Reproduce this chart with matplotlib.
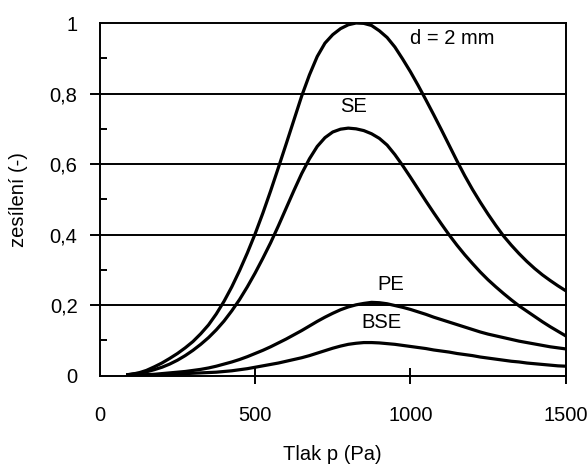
import matplotlib
matplotlib.use("Agg")
import matplotlib.pyplot as plt

plt.rcParams['font.family'] = ['Liberation Sans', 'DejaVu Sans']

# tlak p (Pa)
tlak = [90, 100, 125, 150, 175, 200, 225, 250, 275, 300, 325, 350, 375, 400,
        425, 450, 475, 500, 525, 550, 575, 600, 625, 650, 675, 700, 725, 750,
        775, 800, 825, 850, 875, 900, 925, 950, 975, 1000, 1025, 1050, 1075, 1100,
        1125, 1150, 1175, 1200, 1225, 1250, 1275, 1300, 1325, 1350, 1375, 1400,
        1425, 1450, 1475, 1500]

# celkove zesileni, d = 2 mm
celkem = [0.003, 0.004, 0.008, 0.015, 0.025, 0.036, 0.049, 0.063, 0.079, 0.097, 0.119,
          0.144, 0.175, 0.211, 0.252, 0.298, 0.348, 0.402, 0.461, 0.524, 0.590, 0.657,
          0.725, 0.793, 0.853, 0.905, 0.943, 0.967, 0.984, 0.995, 1.0, 0.999, 0.993,
          0.978, 0.959, 0.932, 0.898, 0.862, 0.823, 0.782, 0.740, 0.697, 0.653, 0.609,
          0.567, 0.528, 0.492, 0.458, 0.426, 0.396, 0.370, 0.346, 0.324, 0.304, 0.286,
          0.270, 0.255, 0.241]
se = [0.003, 0.004, 0.007, 0.011, 0.017, 0.024, 0.033, 0.044, 0.057, 0.072, 0.089, 0.108,
      0.130, 0.155, 0.184, 0.216, 0.252, 0.291, 0.333, 0.377, 0.425, 0.475, 0.525, 0.573,
      0.615, 0.650, 0.675, 0.691, 0.699, 0.702, 0.700, 0.695, 0.686, 0.673, 0.654, 0.627,
      0.596, 0.563, 0.529, 0.495, 0.462, 0.430, 0.399, 0.370, 0.343, 0.318, 0.294, 0.272,
      0.252, 0.233, 0.215, 0.198, 0.183, 0.168, 0.153, 0.139, 0.126, 0.113]
pe = [0.001, 0.001, 0.002, 0.003, 0.004, 0.006, 0.008, 0.010, 0.012, 0.015, 0.018, 0.022,
      0.027, 0.033, 0.039, 0.046, 0.054, 0.063, 0.072, 0.082, 0.093, 0.104, 0.116, 0.128,
      0.141, 0.154, 0.166, 0.177, 0.187, 0.195, 0.201, 0.205, 0.208, 0.207, 0.204, 0.199,
      0.194, 0.188, 0.181, 0.174, 0.166, 0.159, 0.152, 0.145, 0.138, 0.131, 0.124, 0.118,
      0.113, 0.108, 0.103, 0.098, 0.094, 0.090, 0.086, 0.082, 0.079, 0.076]
bse = [0.001, 0.001, 0.001, 0.002, 0.002, 0.003, 0.004, 0.005, 0.006, 0.007, 0.008, 0.009,
       0.010, 0.012, 0.014, 0.017, 0.020, 0.024, 0.028, 0.032, 0.036, 0.041, 0.046, 0.051,
       0.057, 0.064, 0.071, 0.078, 0.084, 0.089, 0.092, 0.094, 0.094, 0.093, 0.091, 0.089,
       0.086, 0.083, 0.080, 0.077, 0.073, 0.070, 0.067, 0.063, 0.060, 0.057, 0.053, 0.050,
       0.047, 0.044, 0.041, 0.039, 0.036, 0.034, 0.032, 0.030, 0.028, 0.027]

yticks = [0, 0.2, 0.4, 0.6, 0.8, 1]
ylabels = ['0', '0,2', '0,4', '0,6', '0,8', '1']
yminor = [0.1, 0.3, 0.5, 0.7, 0.9]
xticks = [0, 500, 1000, 1500]

fs = 14.5

fig = plt.figure(figsize=(5.87, 4.65), dpi=100)
ax = fig.add_axes([0.170, 0.192, 0.7937, 0.7585])

# vodorovna mrizka, vlevo trochu presahuje osu
for y in yticks[1:-1]:
    ax.axhline(y, xmin=-0.018, xmax=1, color='black', lw=1.4, clip_on=False, zorder=1)

for s in [celkem, se, pe, bse]:
    ax.plot(tlak, s, color='black', lw=2.3, zorder=3)

ax.set_xlim(0, 1500)
ax.set_ylim(0, 1)

ax.set_yticks(yticks)
ax.set_yticklabels(ylabels)
ax.set_yticks(yminor, minor=True)
ax.tick_params(axis='y', which='major', length=0, pad=16, labelsize=fs)
ax.tick_params(axis='y', which='minor', direction='in', length=5, width=1.4)

ax.set_xticks(xticks)
ax.set_xticklabels([str(v) for v in xticks])
ax.tick_params(axis='x', which='major', direction='inout', length=11.5, width=1.4,
               pad=16, labelsize=fs)
ax.xaxis.get_major_ticks()[0].tick1line.set_visible(False)

for sp in ax.spines.values():
    sp.set_linewidth(1.4)

ax.set_xlabel('Tlak p (Pa)', fontsize=fs)
ax.set_ylabel('zesílení (-)', fontsize=fs)
ax.xaxis.set_label_coords(0.5, -0.196)
ax.yaxis.set_label_coords(-0.155, 0.5)

ax.text(999, 0.956, 'd = 2 mm', fontsize=fs, ha='left', va='center')
ax.text(816, 0.763, 'SE', fontsize=fs, ha='center', va='center')
ax.text(937, 0.26, 'PE', fontsize=fs, ha='center', va='center')
ax.text(908, 0.15, 'BSE', fontsize=fs, ha='center', va='center')

fig.savefig('out.png', dpi=100)
